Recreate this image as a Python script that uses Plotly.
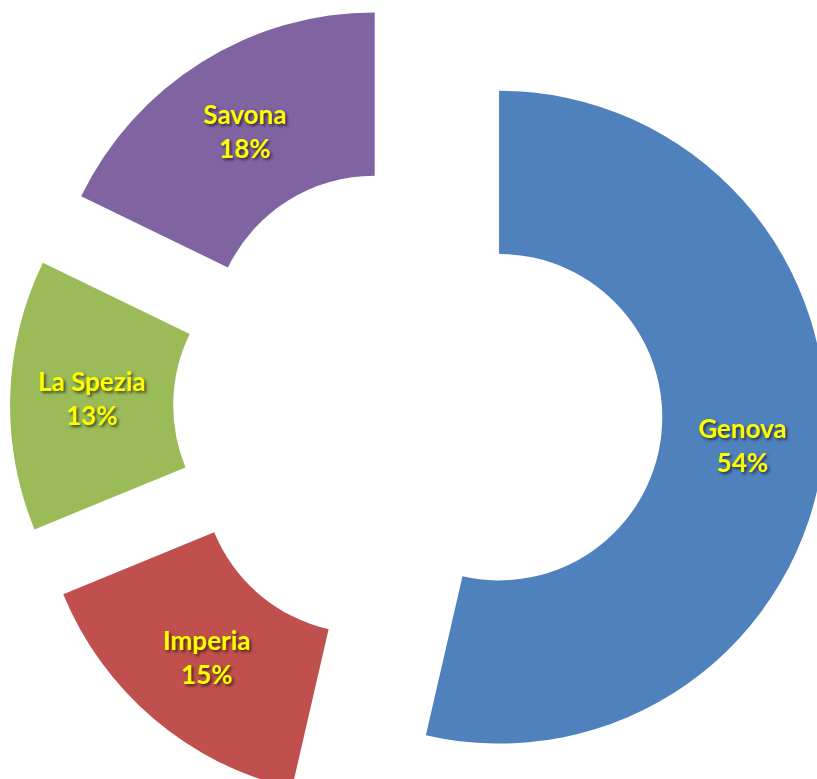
import plotly.graph_objects as go

# province shares
labels = ["Genova", "Imperia", "La Spezia", "Savona"]
values = [53.6, 15.2, 13.4, 17.8]
colors = ["#4F81BD", "#C0504D", "#9BBB59", "#8064A2"]

fig = go.Figure(go.Pie(
    labels=labels,
    values=values,
    sort=False,
    direction="clockwise",
    rotation=0,
    hole=0.5,
    pull=0.25,
    marker=dict(colors=colors, line=dict(width=0)),
    texttemplate="%{label}<br>%{percent:.0%}",
    textposition="inside",
    insidetextorientation="horizontal",
    textfont=dict(family="Lato", size=26, color="#FFFF00",
                  weight="bold", shadow="2px 2px 3px rgba(0,0,0,0.6)"),
    hoverinfo="label+percent",
))

# the donut is slightly larger than the window, so it gets clipped like the original
fig.update_layout(
    width=836,
    height=816,
    margin=dict(l=0, r=0, t=0, b=0),
    showlegend=False,
    paper_bgcolor="white",
    plot_bgcolor="white",
)

fig.write_html(
    "out.html",
    config={"displayModeBar": False},
    post_script="document.body.style.margin='0';"
                "document.documentElement.style.overflow='hidden';"
                "document.body.style.overflow='hidden';",
)
